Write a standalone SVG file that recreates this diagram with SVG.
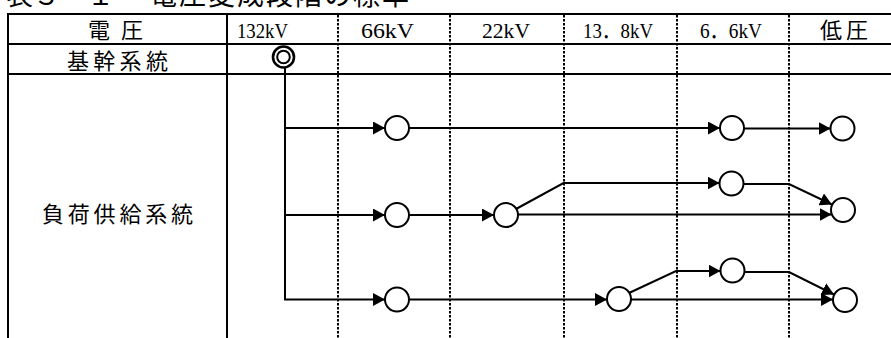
<svg xmlns="http://www.w3.org/2000/svg" width="891" height="338" viewBox="0 0 891 338">
<style>
.frame{stroke:#000;stroke-width:2;fill:none}
.dot{stroke:#000;stroke-width:2;stroke-dasharray:2.5 1.5;fill:none}
.con{stroke:#000;stroke-width:2;fill:none}
.arr{marker-end:url(#ah)}
.nd{fill:#fff;stroke:#000;stroke-width:2}
.jp{font-family:"Noto Sans CJK JP","Noto Sans CJK SC",sans-serif;font-size:22px;fill:#000}
.lt{font-family:"Liberation Serif","Noto Sans CJK JP",serif;font-size:22px;fill:#000}
.ttl{font-family:"Noto Sans CJK JP",sans-serif;font-size:27px;fill:#000}
</style>
<defs>
<marker id="ah" markerWidth="12" markerHeight="13" refX="12" refY="6.5" orient="auto" markerUnits="userSpaceOnUse">
<path d="M0,0 L12,6.5 L0,13 z" fill="#000"/>
</marker>
</defs>
<rect width="891" height="338" fill="#fff"/>
<g id="title">
<text class="ttl" y="5"><tspan x="6">表</tspan><tspan x="33">３</tspan><tspan x="60">－</tspan><tspan x="87">１</tspan><tspan x="150 179 208 237 266 295 324 353 382">電圧変成段階の標準</tspan></text>
</g>
<g id="table">
<line class="frame" x1="8" y1="14" x2="891" y2="14"/>
<line class="frame" x1="8" y1="44" x2="891" y2="44"/>
<line class="frame" x1="8" y1="74" x2="891" y2="74"/>
<line class="frame" x1="8" y1="13" x2="8" y2="338"/>
<line class="frame" x1="227" y1="13" x2="227" y2="338"/>
<line class="dot" x1="338" y1="15" x2="338" y2="338"/>
<line class="dot" x1="450" y1="15" x2="450" y2="338"/>
<line class="dot" x1="564" y1="15" x2="564" y2="338"/>
<line class="dot" x1="677" y1="15" x2="677" y2="338"/>
<line class="dot" x1="789" y1="15" x2="789" y2="338"/>
<text class="jp" x="88 121" y="37.5">電圧</text>
<text class="jp" x="67 93.3 119.6 146" y="68.5">基幹系統</text>
<text class="jp" x="42 67.8 93.6 119.4 145.2 171" y="221.5">負荷供給系統</text>
<text class="lt" x="237" y="37.5" textLength="51" lengthAdjust="spacingAndGlyphs">132kV</text>
<text class="lt" x="361" y="37.5" textLength="53" lengthAdjust="spacingAndGlyphs">66kV</text>
<text class="lt" x="482" y="37.5" textLength="48" lengthAdjust="spacingAndGlyphs">22kV</text>
<text class="lt" x="583" y="37.5" textLength="70" lengthAdjust="spacingAndGlyphs">13．8kV</text>
<text class="lt" x="700" y="37.5" textLength="62" lengthAdjust="spacingAndGlyphs">6．6kV</text>
<text class="jp" x="820 846" y="37.5">低圧</text>
</g>
<g id="connectors">
<polyline class="con" points="285,66 285,299.5"/>
<line class="con arr" x1="284" y1="128" x2="385" y2="128"/>
<line class="con arr" x1="409" y1="128" x2="720" y2="128"/>
<line class="con arr" x1="744" y1="128.5" x2="830.5" y2="128.5"/>
<line class="con arr" x1="284" y1="215" x2="385" y2="215"/>
<line class="con arr" x1="409" y1="215" x2="494" y2="215"/>
<line class="con arr" x1="518" y1="214.5" x2="831.5" y2="214.5"/>
<polyline class="con arr" points="516,209 563.5,183 719.5,183"/>
<polyline class="con arr" points="743.5,184 789,184 832,204.5"/>
<line class="con arr" x1="284" y1="299.5" x2="385" y2="299.5"/>
<line class="con arr" x1="409" y1="299.5" x2="607" y2="299.5"/>
<line class="con arr" x1="631" y1="299.5" x2="833" y2="299.5"/>
<polyline class="con arr" points="629,293 676,271 720.5,271"/>
<polyline class="con arr" points="744.5,272 789,272 834,294.5"/>
</g>
<g id="n0"><circle cx="283.5" cy="57" r="10.5" fill="#fff" stroke="#000" stroke-width="2.6"/><circle cx="283.5" cy="57" r="6.3" fill="#fff" stroke="#000" stroke-width="2"/></g>
<g id="n1"><circle class="nd" cx="397" cy="128" r="12"/></g>
<g id="n2"><circle class="nd" cx="732" cy="128" r="12"/></g>
<g id="n3"><circle class="nd" cx="842.5" cy="128.5" r="12"/></g>
<g id="n4"><circle class="nd" cx="397" cy="215" r="12"/></g>
<g id="n5"><circle class="nd" cx="506" cy="215" r="12"/></g>
<g id="n6"><circle class="nd" cx="731.5" cy="183.5" r="12"/></g>
<g id="n7"><circle class="nd" cx="843" cy="210" r="12"/></g>
<g id="n8"><circle class="nd" cx="397" cy="299.5" r="12"/></g>
<g id="n9"><circle class="nd" cx="619" cy="299" r="12"/></g>
<g id="n10"><circle class="nd" cx="732.5" cy="270.5" r="12"/></g>
<g id="n11"><circle class="nd" cx="845" cy="300" r="12"/></g>
</svg>
